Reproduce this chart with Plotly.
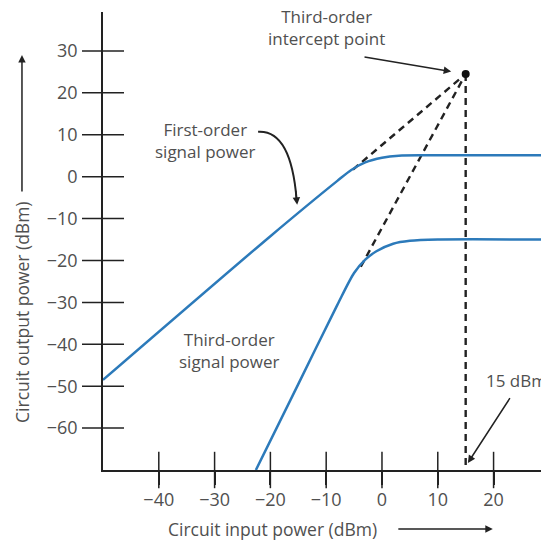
import plotly.graph_objects as go

# ---- data ----
first_x = [-50, -20, -8, -5.5, -3, 0, 3, 8, 28.5]
first_y = [-48.5, -14.2, -1.0, 1.6, 3.4, 4.5, 5.0, 5.1, 5.1]

third_x = [-22.6, -15, -8, -5, -3, -1, 2, 5, 10, 28.5]
third_y = [-70, -49.5, -30.6, -23.0, -19.8, -17.8, -16.0, -15.3, -15.0, -15.0]

intercept_x = [15]
intercept_y = [24.5]

first_knee = (-5.2, 1.7)
third_knee = (-3.8, -21.5)

x_ticks = [-40, -30, -20, -10, 0, 10, 20]
y_ticks = [30, 20, 10, 0, -10, -20, -30, -40, -50, -60]
x_range = [-50, 28.5]
y_range = [-70, 39.3]

BLUE = "#2c7aba"
TXT = "#505050"
FONT = "Open Sans"
DASH = dict(color="#222", width=2.4, dash="7px,5px")

fig = go.Figure()

# dashed extrapolation lines
fig.add_trace(go.Scatter(x=[first_knee[0], intercept_x[0]], y=[first_knee[1], intercept_y[0]],
                         mode="lines", line=DASH, hoverinfo="skip", showlegend=False))
fig.add_trace(go.Scatter(x=[third_knee[0], intercept_x[0]], y=[third_knee[1], intercept_y[0]],
                         mode="lines", line=DASH, hoverinfo="skip", showlegend=False))
fig.add_trace(go.Scatter(x=[intercept_x[0], intercept_x[0]], y=[intercept_y[0], y_range[0]],
                         mode="lines", line=DASH, hoverinfo="skip", showlegend=False))

# signal power curves
fig.add_trace(go.Scatter(x=first_x, y=first_y, mode="lines",
                         line=dict(color=BLUE, width=2.5, shape="spline", smoothing=0.8),
                         showlegend=False))
fig.add_trace(go.Scatter(x=third_x, y=third_y, mode="lines",
                         line=dict(color=BLUE, width=2.5, shape="spline", smoothing=0.8),
                         showlegend=False))

# intercept point
fig.add_trace(go.Scatter(x=intercept_x, y=intercept_y, mode="markers",
                         marker=dict(color="#111", size=8), showlegend=False))

# tick marks crossing the axes
fig.add_trace(go.Scatter(x=[x_range[0]] * len(y_ticks), y=y_ticks, mode="markers",
                         marker=dict(symbol="line-ew", size=30, line=dict(color="#222", width=1.5)),
                         cliponaxis=False, hoverinfo="skip", showlegend=False))
fig.add_trace(go.Scatter(x=x_ticks, y=[y_range[0]] * len(x_ticks), mode="markers",
                         marker=dict(symbol="line-ns", size=26, line=dict(color="#222", width=1.5)),
                         cliponaxis=False, hoverinfo="skip", showlegend=False))

ann_font = dict(family=FONT, size=17, color=TXT)
title_font = dict(family=FONT, size=17.5, color=TXT)
arrow = dict(showarrow=True, arrowhead=2, arrowsize=1, arrowwidth=1.5, arrowcolor="#222", text="")
annotations = [
    dict(x=-10, y=35.6, xref="x", yref="y", text="Third-order<br>intercept point",
         showarrow=False, font=ann_font, xanchor="center", yanchor="middle"),
    dict(x=12.4, y=25.1, xref="x", yref="y", ax=-3.4, ay=28.6, axref="x", ayref="y", **arrow),
    dict(x=-31.7, y=8.6, xref="x", yref="y", text="First-order<br>signal power",
         showarrow=False, font=ann_font, xanchor="center", yanchor="middle"),
    dict(x=-15.2, y=-6.7, xref="x", yref="y", ax=-15.5, ay=-3.0, axref="x", ayref="y", **arrow),
    dict(x=-27.4, y=-41.5, xref="x", yref="y", text="Third-order<br>signal power",
         showarrow=False, font=ann_font, xanchor="center", yanchor="middle"),
    dict(x=18.3, y=-48.7, xref="x", yref="y", text="15 dBm", xanchor="left", yanchor="middle",
         showarrow=False, font=ann_font),
    dict(x=15.4, y=-68.3, xref="x", yref="y", ax=23.1, ay=-52.5, axref="x", ayref="y", **arrow),
    # axis titles
    dict(x=-0.185, y=0.345, xref="paper", yref="paper", text="Circuit output power (dBm)",
         textangle=-90, showarrow=False, font=title_font, xanchor="center", yanchor="middle"),
    dict(x=-0.185, y=0.906, xref="paper", yref="paper", ax=0, ay=138, **arrow),
    dict(x=0.387, y=-0.129, xref="paper", yref="paper", text="Circuit input power (dBm)",
         showarrow=False, font=title_font, xanchor="center", yanchor="middle"),
    dict(x=0.890, y=-0.129, xref="paper", yref="paper", ax=-96, ay=0, **arrow),
]

shapes = [
    dict(type="path", xref="x", yref="y",
         path="M -22.2,10.7 Q -16.3,11.2 -15.3,-5.5",
         line=dict(color="#222", width=2)),
]

fig.update_layout(
    width=541, height=542,
    margin=dict(l=103, r=0, t=12, b=72),
    paper_bgcolor="white", plot_bgcolor="white",
    font=dict(family=FONT, size=17, color=TXT),
    annotations=annotations, shapes=shapes,
    xaxis=dict(range=x_range, tickvals=x_ticks, ticks="outside", ticklen=13,
               tickwidth=1.5, tickcolor="#222", showgrid=False, zeroline=False,
               showline=True, linecolor="#222", linewidth=1.5,
               tickfont=dict(family=FONT, size=18, color=TXT)),
    yaxis=dict(range=y_range, tickvals=y_ticks, ticks="outside", ticklen=20,
               tickwidth=1.5, tickcolor="rgba(0,0,0,0)", showgrid=False, zeroline=False,
               showline=True, linecolor="#222", linewidth=1.5,
               tickfont=dict(family=FONT, size=18, color=TXT)),
)

fig.write_html("out.html", config={"displayModeBar": False},
               post_script="document.body.style.margin='0';document.body.style.overflow='hidden';")
